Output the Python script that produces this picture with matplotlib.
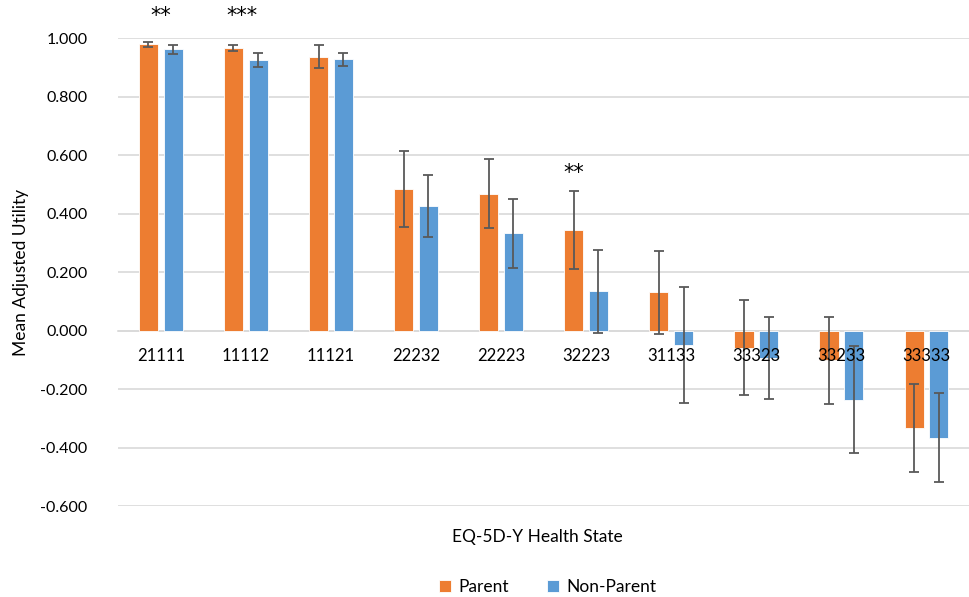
import matplotlib
matplotlib.use('Agg')
import matplotlib.pyplot as plt
import numpy as np

plt.rcParams['font.family'] = ['Lato', 'DejaVu Sans']

states = ['21111', '11112', '11121', '22232', '22223', '32223', '31133', '33323', '33233', '33333']
parent = [0.978, 0.966, 0.936, 0.485, 0.468, 0.343, 0.130, -0.059, -0.102, -0.334]
parent_err = [0.010, 0.011, 0.039, 0.130, 0.119, 0.134, 0.143, 0.162, 0.148, 0.151]
nonparent = [0.961, 0.926, 0.928, 0.426, 0.333, 0.134, -0.050, -0.095, -0.236, -0.367]
nonparent_err = [0.014, 0.024, 0.022, 0.107, 0.118, 0.142, 0.198, 0.140, 0.184, 0.152]
# significance marks: (category index, x shift, y, text)
sig_marks = [(0, 0.0, 1.075, '**'), (1, -0.05, 1.075, '***'), (5, -0.15, 0.538, '**')]

orange = '#ED7D31'
blue = '#5B9BD5'
errc = '#595959'

fig = plt.figure(figsize=(9.69, 5.97), dpi=100)
ax = fig.add_axes([0.122, 0.1524, 0.878, 0.7839])

x = np.arange(len(states))
w = 0.225
off = 0.145
ax.bar(x - off, parent, w, color=orange, edgecolor='white', linewidth=0.6, zorder=2, label='Parent')
ax.bar(x + off, nonparent, w, color=blue, edgecolor='white', linewidth=0.6, zorder=2, label='Non-Parent')
ax.errorbar(x - off, parent, yerr=parent_err, fmt='none', ecolor=errc, elinewidth=1.3, capsize=3.6, capthick=1.3, zorder=3)
ax.errorbar(x + off, nonparent, yerr=nonparent_err, fmt='none', ecolor=errc, elinewidth=1.3, capsize=3.6, capthick=1.3, zorder=3)

ax.set_xlim(-0.5, len(states) - 0.5)
ax.set_ylim(-0.6, 1.0)
ax.set_yticks(np.arange(-0.6, 1.01, 0.2))
ax.set_yticklabels([f'{v:.3f}' for v in np.arange(-0.6, 1.01, 0.2)])
ax.yaxis.grid(True, color='#d9d9d9', linewidth=1.2, zorder=0)
ax.set_axisbelow(True)

for s in ['top', 'right', 'left']:
    ax.spines[s].set_visible(False)
ax.spines['bottom'].set_position(('data', 0))
ax.spines['bottom'].set_color('#d9d9d9')
ax.spines['bottom'].set_linewidth(1.2)
ax.spines['bottom'].set_zorder(1)

ax.set_xticks([])
ax.tick_params(axis='y', length=0, pad=22, labelsize=11.5)
# category labels sit on the zero line, drawn over the bars
for i, s in enumerate(states):
    ax.annotate(s, (i, 0), xytext=(0, -18), textcoords='offset points',
                ha='center', va='center', fontsize=12, zorder=6, annotation_clip=False)

ax.set_ylabel('Mean Adjusted Utility', fontsize=12.5, labelpad=8)
fig.text(0.555, 0.1, 'EQ-5D-Y Health State', ha='center', va='center', fontsize=12.5)

for i, dx, yy, t in sig_marks:
    ax.text(i + dx, yy, t, ha='center', va='center', fontsize=15, family='DejaVu Sans', clip_on=False)

fig.legend(loc='center', bbox_to_anchor=(0.565, 0.016), ncol=2, frameon=False, fontsize=12.5,
           handlelength=0.7, handleheight=0.7, columnspacing=2.2, handletextpad=0.4)

fig.savefig('out.png', dpi=100)
